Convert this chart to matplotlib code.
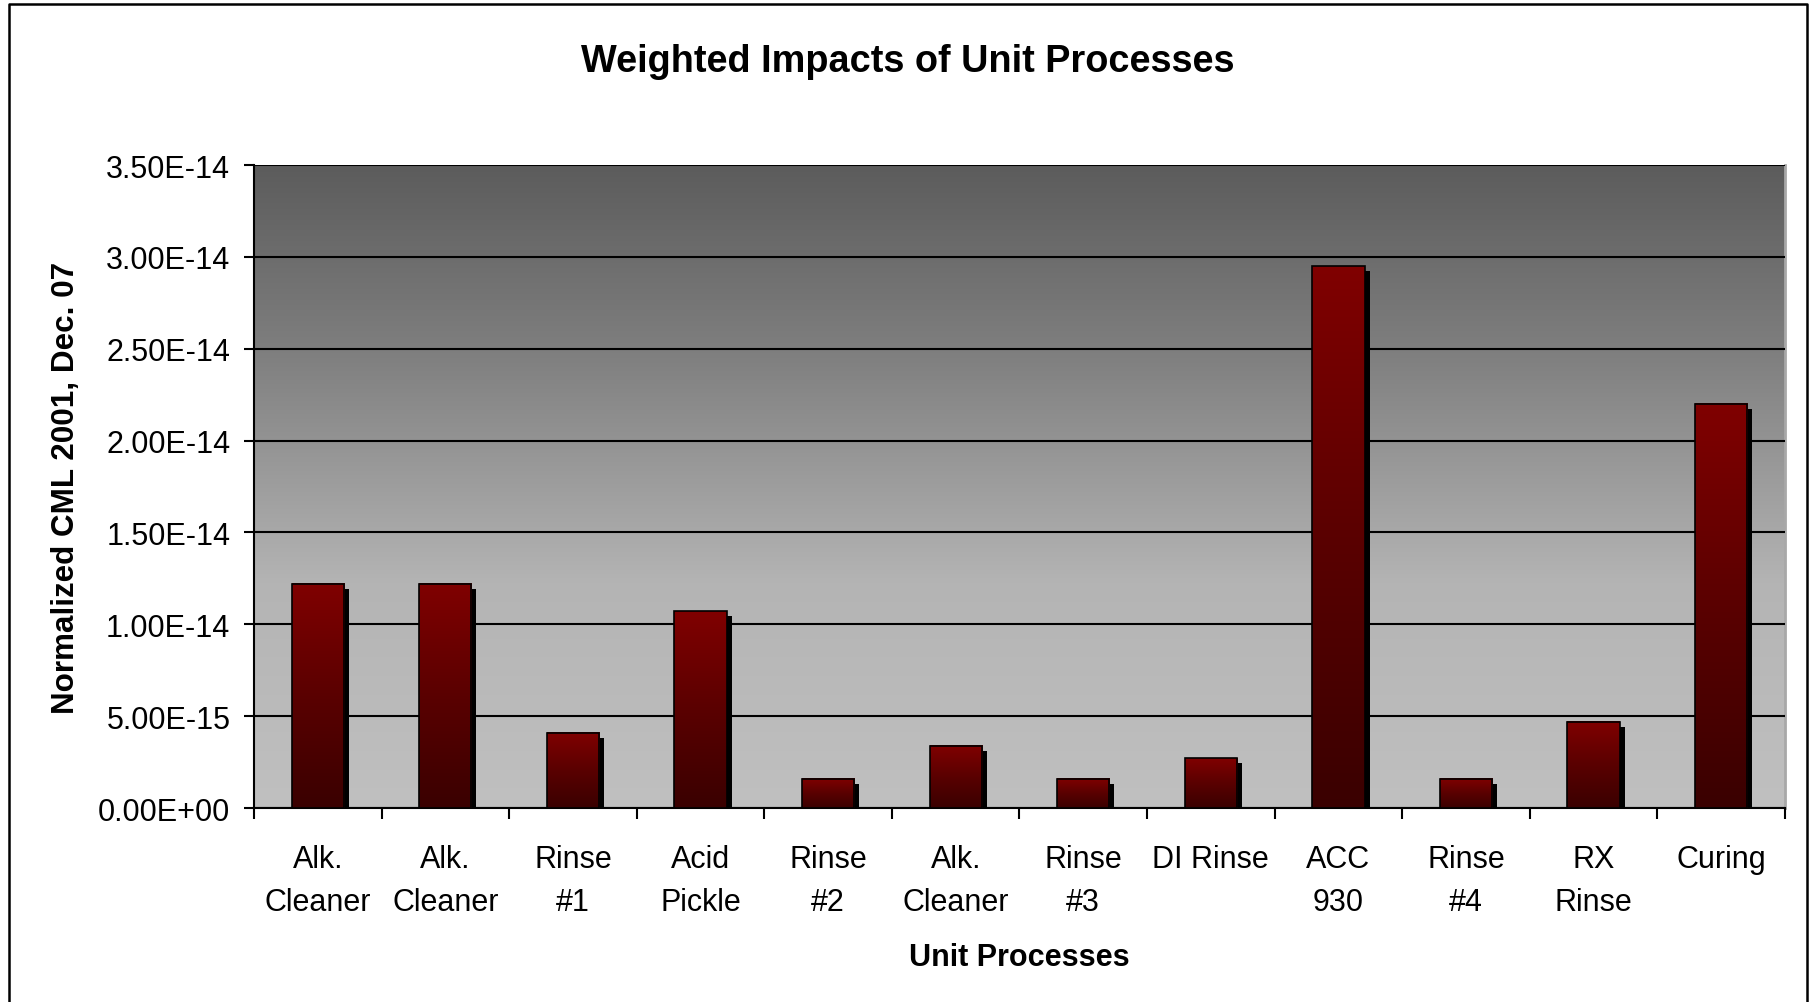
import matplotlib
matplotlib.use('Agg')
import matplotlib.pyplot as plt
import matplotlib.transforms as mtransforms
from matplotlib.colors import LinearSegmentedColormap
from matplotlib.lines import Line2D
from matplotlib.ticker import FuncFormatter, MultipleLocator
import numpy as np

plt.rcParams['font.family'] = ['Liberation Sans', 'DejaVu Sans']

processes = ['Alk.\nCleaner', 'Alk.\nCleaner', 'Rinse\n#1', 'Acid\nPickle', 'Rinse\n#2',
             'Alk.\nCleaner', 'Rinse\n#3', 'DI Rinse', 'ACC\n930', 'Rinse\n#4',
             'RX\nRinse', 'Curing']
impacts = [1.22e-14, 1.22e-14, 0.41e-14, 1.07e-14, 0.16e-14, 0.34e-14,
           0.16e-14, 0.27e-14, 2.95e-14, 0.16e-14, 0.47e-14, 2.20e-14]

ymax = 3.5e-14
bar_w = 0.41

fig = plt.figure(figsize=(18.1, 10.03), dpi=100)
ax = fig.add_axes([0.1403, 0.1934, 0.8459, 0.6410])

x = np.arange(len(processes))

# grey plot-area gradient, dark at the top
bg_cmap = LinearSegmentedColormap.from_list(
    'bg', [(0.0, '#c0c0c0'), (0.35, '#b4b4b4'), (0.7, '#808080'), (1.0, '#5c5c5c')])
grad = np.linspace(0, 1, 256).reshape(-1, 1)
ax.imshow(grad, cmap=bg_cmap, origin='lower', aspect='auto',
          extent=[-0.5, len(x) - 0.5, 0, ymax], zorder=0)

# drop shadows, shifted right and down
shadow_tf = mtransforms.offset_copy(ax.transData, fig=fig, x=5, y=-5, units='dots')
ax.bar(x, impacts, width=bar_w, color='black', zorder=2, transform=shadow_tf)

# bars with a red-to-dark gradient
bar_cmap = LinearSegmentedColormap.from_list('bar', ['#3a0000', '#5a0000', '#800000'])
for xi, v in zip(x, impacts):
    ax.imshow(grad, cmap=bar_cmap, origin='lower', aspect='auto',
              extent=[xi - bar_w / 2, xi + bar_w / 2, 0, v], zorder=3)
ax.bar(x, impacts, width=bar_w, facecolor='none', edgecolor='black', linewidth=1.2, zorder=4)

ax.set_xlim(-0.5, len(x) - 0.5)
ax.set_ylim(0, ymax)

ax.yaxis.set_major_locator(MultipleLocator(0.5e-14))
ax.yaxis.set_major_formatter(FuncFormatter(lambda v, p: f'{v:.2E}'))
ax.grid(axis='y', color='black', linewidth=1.5, zorder=1)
ax.set_axisbelow(False)
for gl in ax.get_ygridlines():
    gl.set_zorder(1)

ax.set_xticks(np.arange(-0.5, len(x)), labels=[])
ax.set_xticks(x, labels=processes, minor=True)
ax.tick_params(axis='x', which='major', direction='out', length=8, width=1.5)
ax.tick_params(axis='x', which='minor', length=0, pad=26, labelsize=22)
ax.tick_params(axis='y', direction='out', length=7, width=1.5, pad=10, labelsize=22)
for t in ax.get_xminorticklabels():
    t.set_linespacing(1.55)

for s in ['left', 'bottom']:
    ax.spines[s].set_linewidth(1.5)
ax.spines['top'].set_visible(False)
ax.spines['right'].set_color('#a8a8a8')
ax.spines['right'].set_linewidth(2)

ax.set_xlabel('Unit Processes', fontsize=22, fontweight='bold', labelpad=18)
ax.set_ylabel('Normalized CML 2001, Dec. 07', fontsize=22.6, fontweight='bold', labelpad=12)
fig.text(0.5017, 0.9385, 'Weighted Impacts of Unit Processes', fontsize=27.3,
         fontweight='bold', ha='center', va='center')

# outer chart frame (open at the bottom)
fx0, fx1, fy1 = 8.5 / 1810, 1806.5 / 1810, 1 - 5 / 1003
frame = Line2D([fx0, fx0, fx1, fx1], [0, fy1, fy1, 0], transform=fig.transFigure,
               color='black', linewidth=1.8)
fig.add_artist(frame)

fig.savefig('out.png', dpi=100)
